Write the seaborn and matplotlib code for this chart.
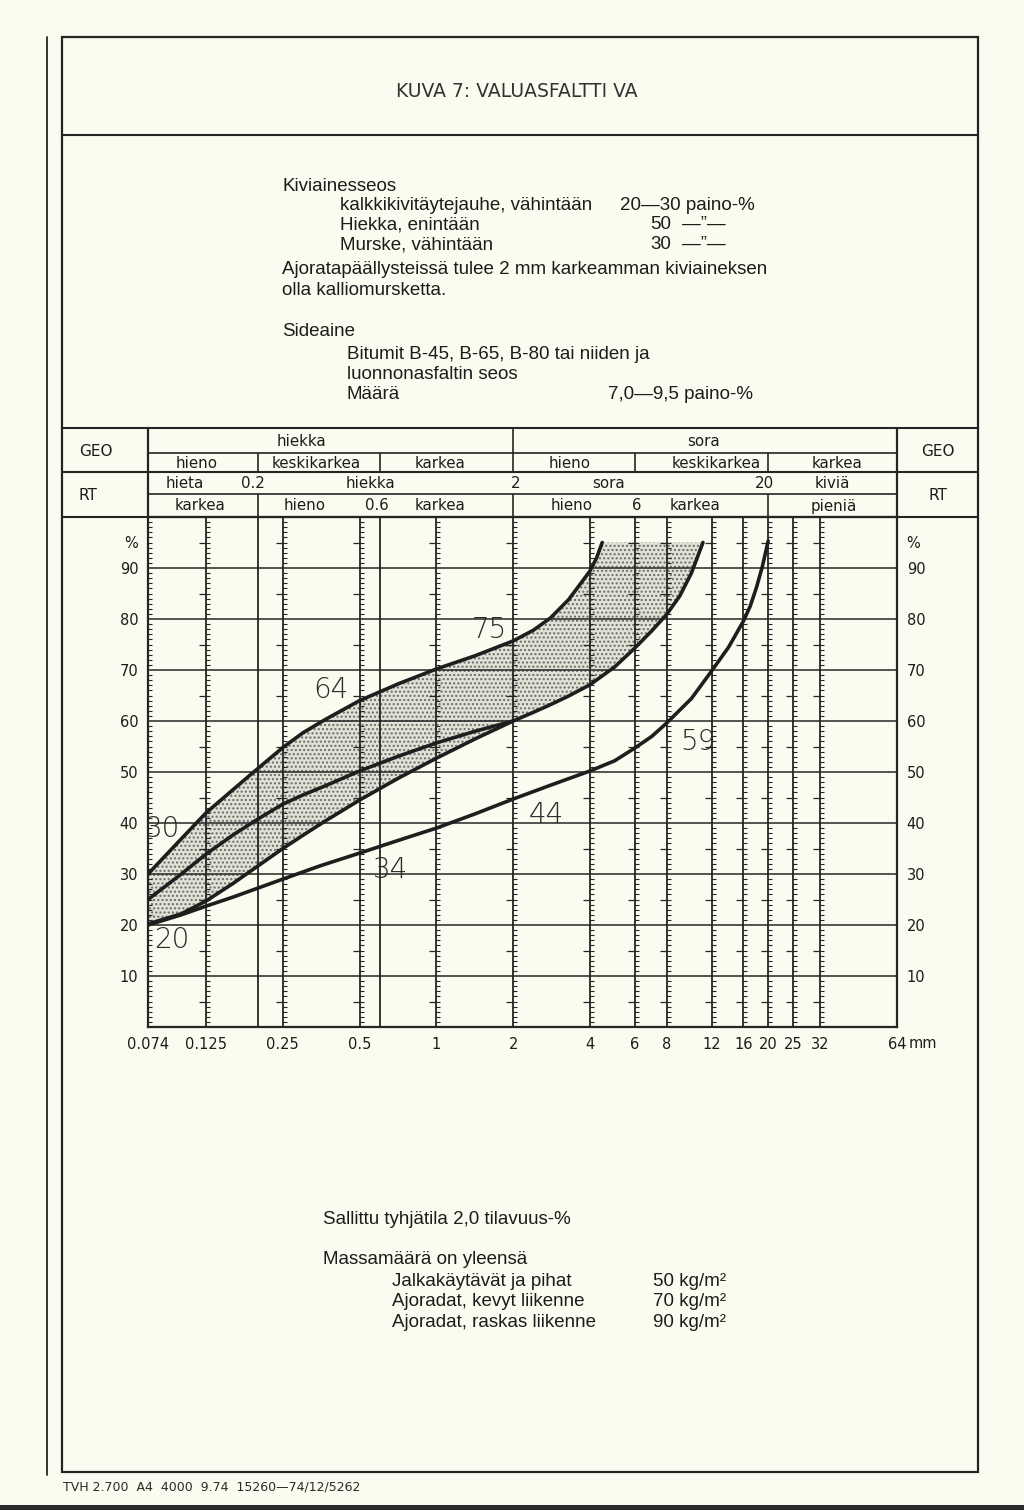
import matplotlib
matplotlib.use('Agg')
import matplotlib.pyplot as plt
from matplotlib.patches import Rectangle
from matplotlib.ticker import NullLocator
import numpy as np
import pandas as pd
import seaborn as sns

sns.set_theme(style='white')
plt.rcParams['font.family'] = ['DejaVu Sans']
plt.rcParams['hatch.color'] = '#6a6a6a'
plt.rcParams['hatch.linewidth'] = 1.0

# seulakoot (mm) ja akselin tekstit
seulat = [0.074, 0.125, 0.25, 0.5, 1, 2, 4, 6, 8, 12, 16, 20, 25, 32, 64]
seula_tekstit = ['0.074', '0.125', '0.25', '0.5', '1', '2', '4', '6', '8',
                 '12', '16', '20', '25', '32', '64']
raja_viivat = [0.2, 0.6]          # viivat ilman asteikkoa
pct_arvot = [10, 20, 30, 40, 50, 60, 70, 80, 90]

# rakeisuuskayrat, luettu kuvasta (lapaisy-%)
yla_mm = [0.074, 0.1, 0.125, 0.16, 0.186, 0.25, 0.3, 0.367, 0.5, 0.71, 1, 1.42,
          2, 2.4, 2.8, 3.3, 4, 4.25, 4.47]
yla_pct = [30, 36.9, 42.0, 46.6, 49.4, 54.8, 57.7, 60.3, 64, 67.3, 70.2, 72.8,
           75.7, 77.8, 80.2, 83.8, 89.4, 92, 95]

keski_mm = [0.074, 0.1, 0.125, 0.16, 0.2, 0.25, 0.3, 0.367, 0.5, 0.71, 1, 1.42, 2]
keski_pct = [25, 30, 33.9, 37.7, 40.8, 43.7, 45.5, 47.3, 50.2, 53.1, 55.7, 58, 60]

ala_mm = [0.074, 0.1, 0.125, 0.16, 0.2, 0.25, 0.3, 0.367, 0.5, 0.71, 1, 1.42, 2,
          2.4, 2.8, 3.3, 4, 5, 6, 7, 8, 9, 10, 11.1]
ala_pct = [20.2, 22.2, 24.7, 28.2, 31.6, 35.0, 37.6, 40.4, 44.5, 48.8, 52.7, 56.5, 60,
           61.7, 63.2, 64.9, 67.1, 70.6, 74.3, 77.7, 80.9, 84.5, 89, 95]

alin_mm = [0.074, 0.1, 0.125, 0.16, 0.25, 0.35, 0.5, 0.71, 1, 1.42, 2, 2.8, 4, 5,
           6, 7, 8, 10, 12, 14, 16, 17, 18, 19, 20]
alin_pct = [20, 22.0, 23.7, 25.5, 29, 31.6, 34.1, 36.6, 39, 41.8, 44.7, 47.4, 50.2, 52.2,
            54.7, 57, 59.6, 64.4, 69.8, 74.5, 79.6, 82.5, 86.2, 90.4, 95.3]

kayra_tekstit = ['30', '20', '64', '75', '34', '44', '59']
kayra_tekstit_mm = [0.0847, 0.0918, 0.386, 1.62, 0.659, 2.69, 10.6]
kayra_tekstit_pct = [38.8, 17.1, 66.1, 77.8, 30.8, 41.6, 55.9]

# GEO / RT -taulukko
geo_yla = [('hiekka', 0.297), ('sora', 11.2)]
geo_ala = [('hieno', 0.115), ('keskikarkea', 0.338), ('karkea', 1.03),
           ('hieno', 3.32), ('keskikarkea', 12.5), ('karkea', 37.3)]
rt_yla = [('hieta', 0.103), ('0.2', 0.19), ('hiekka', 0.552), ('2', 2.05),
          ('sora', 4.74), ('20', 19.3), ('kiviä', 35.7)]
rt_ala = [('karkea', 0.118), ('hieno', 0.304), ('0.6', 0.584), ('karkea', 1.03),
          ('hieno', 3.38), ('6', 6.1), ('karkea', 10.3), ('pieniä', 36.3)]
geo_yla_rajat = [2]
geo_ala_rajat = [0.2, 0.6, 2, 6, 20]
rt_ala_rajat = [0.2, 2, 20]

LINE = '#252525'
TEXT = '#1c1c1c'
PAPER = '#fbfbef'
W, H = 1024, 1510


def fx(px):
    return px / W


def fy(py):
    return 1 - py / H


fig = plt.figure(figsize=(10.24, 15.10), dpi=100, facecolor=PAPER)

page = fig.add_axes([0, 0, 1, 1], zorder=0)
page.set_xlim(0, W)
page.set_ylim(H, 0)
page.axis('off')

ax = fig.add_axes([fx(148), fy(1027), fx(897) - fx(148), fy(517) - fy(1027)], zorder=2)
ax.set_facecolor('none')
tab = fig.add_axes([fx(148), fy(517), fx(897) - fx(148), fy(428) - fy(517)],
                   sharex=ax, zorder=2)

# --- kaavio ---
ax.set_xscale('log')
ax.set_xlim(seulat[0], seulat[-1])
ax.set_ylim(0, 100)

for s in seulat[1:-1] + raja_viivat:
    ax.axvline(s, color=LINE, lw=1.3, zorder=1)
for p in pct_arvot:
    ax.axhline(p, color=LINE, lw=1.1, zorder=1)

# mittaviivojen pikkujaot
oct_px = (897 - 148) / np.log2(seulat[-1] / seulat[0])
lyhyt = 2 ** (4 / oct_px)
pitka = 2 ** (7 / oct_px)
pienet = [p for p in range(1, 100) if p % 10]
viidet = list(range(5, 100, 10))
for s in seulat[:-1]:
    ax.hlines(pienet, s, s * lyhyt, color=LINE, lw=0.8, zorder=1)
    ax.hlines(viidet, s / pitka, s, color=LINE, lw=0.9, zorder=1)

# rajakayrien valinen alue
nauha_x = yla_mm + [ala_mm[-1]] + ala_mm[::-1]
nauha_y = yla_pct + [ala_pct[-1]] + ala_pct[::-1]
ax.fill(nauha_x, nauha_y, facecolor='#e2e1d6', edgecolor='#6a6a6a', hatch='....',
        lw=0, zorder=0.5)

kayrat = pd.concat([
    pd.DataFrame({'mm': yla_mm, 'pct': yla_pct, 'kayra': 'yla'}),
    pd.DataFrame({'mm': keski_mm, 'pct': keski_pct, 'kayra': 'keski'}),
    pd.DataFrame({'mm': ala_mm, 'pct': ala_pct, 'kayra': 'ala'}),
    pd.DataFrame({'mm': alin_mm, 'pct': alin_pct, 'kayra': 'alin'}),
])
sns.lineplot(data=kayrat, x='mm', y='pct', units='kayra', estimator=None, sort=False,
             color='#1e1e1e', lw=2.6, ax=ax, zorder=3, solid_joinstyle='round',
             solid_capstyle='round')

for t, xm, yp in zip(kayra_tekstit, kayra_tekstit_mm, kayra_tekstit_pct):
    ax.text(xm, yp, t, ha='center', va='center', fontsize=20, color='#2a2a2a',
            fontweight='light', zorder=4)

for sp in ax.spines.values():
    sp.set_visible(True)
    sp.set_color(LINE)
    sp.set_linewidth(1.6)

ax.set_xticks(seulat, seula_tekstit)
ax.xaxis.set_minor_locator(NullLocator())
ax.set_yticks(pct_arvot + [95], [str(p) for p in pct_arvot] + ['%'])
ax.tick_params(axis='both', length=0, labelsize=10.5, colors=TEXT)
ax.tick_params(axis='x', pad=7)
ax.tick_params(axis='y', pad=7, labelright=True)
ax.set_xlabel('')
ax.set_ylabel('')
ax.annotate('mm', xy=(seulat[-1], 0), xycoords='data', xytext=(12, -16),
            textcoords='offset pixels', ha='left', va='center', fontsize=10.5, color=TEXT)

# --- taulukko ---
tab.set_ylim(517, 428)
tab.axis('off')
kapea = ['Liberation Sans Narrow', 'DejaVu Sans']
tab.hlines([453, 494], seulat[0], seulat[-1], color=LINE, lw=1.2, clip_on=False)
tab.vlines(geo_yla_rajat, 428, 453, color=LINE, lw=1.2, clip_on=False)
tab.vlines(geo_ala_rajat, 453, 472, color=LINE, lw=1.2, clip_on=False)
tab.vlines(rt_ala_rajat, 494, 517, color=LINE, lw=1.2, clip_on=False)
tab.vlines([seulat[0], seulat[-1]], 428, 517, color=LINE, lw=1.6, clip_on=False)
for rivi, yc in [(geo_yla, 441), (geo_ala, 463), (rt_yla, 483), (rt_ala, 506)]:
    for sana, xm in rivi:
        tab.text(xm, yc, sana, ha='center', va='center', fontsize=10.8,
                 family=kapea, color=TEXT)

# --- sivu ---
page.plot([47, 47], [37, 1475], color=LINE, lw=1.3)
page.add_patch(Rectangle((62, 37), 916, 1435, fill=False, lw=1.6, ec=LINE))
page.hlines([135, 428, 472, 517], 62, 978, color=LINE, lw=1.5)
page.add_patch(Rectangle((0, 1505), W, 5, color='#2a2a2a', lw=0))

for t, xp in [('GEO', 96), ('GEO', 938)]:
    page.text(xp, 452, t, ha='center', va='center', fontsize=11, family=kapea, color=TEXT)
for t, xp in [('RT', 88), ('RT', 938)]:
    page.text(xp, 495, t, ha='center', va='center', fontsize=11, family=kapea, color=TEXT)

page.text(517, 97, 'KUVA 7: VALUASFALTTI VA', ha='center', va='baseline',
          fontsize=13.5, color='#333333')

body = ['Liberation Sans', 'DejaVu Sans']
fs = 13.5
teksti = [
    (282, 191, 'Kiviainesseos'),
    (340, 210, 'kalkkikivitäytejauhe, vähintään'),
    (620, 210, '20—30 paino-%'),
    (340, 229, 'Hiekka, enintään'),
    (650, 229, '50'),
    (682, 229, '—”—'),
    (340, 249, 'Murske, vähintään'),
    (650, 249, '30'),
    (682, 249, '—”—'),
    (282, 274, 'Ajoratapäällysteissä tulee 2 mm karkeamman kiviaineksen'),
    (282, 295, 'olla kalliomursketta.'),
    (282, 336, 'Sideaine'),
    (347, 359, 'Bitumit B-45, B-65, B-80 tai niiden ja'),
    (347, 379, 'luonnonasfaltin seos'),
    (347, 399, 'Määrä'),
    (608, 399, '7,0—9,5 paino-%'),
    (323, 1224, 'Sallittu tyhjätila 2,0 tilavuus-%'),
    (323, 1264, 'Massamäärä on yleensä'),
    (392, 1286, 'Jalkakäytävät ja pihat'),
    (653, 1286, '50 kg/m²'),
    (392, 1306, 'Ajoradat, kevyt liikenne'),
    (653, 1306, '70 kg/m²'),
    (392, 1327, 'Ajoradat, raskas liikenne'),
    (653, 1327, '90 kg/m²'),
]
for xp, yp, t in teksti:
    page.text(xp, yp, t, ha='left', va='baseline', fontsize=fs, family=body, color=TEXT)

page.text(63, 1491, 'TVH 2.700  A4  4000  9.74  15260—74/12/5262', ha='left',
          va='baseline', fontsize=9, color='#2a2a2a')

fig.savefig('out.png', dpi=100, facecolor=PAPER)
